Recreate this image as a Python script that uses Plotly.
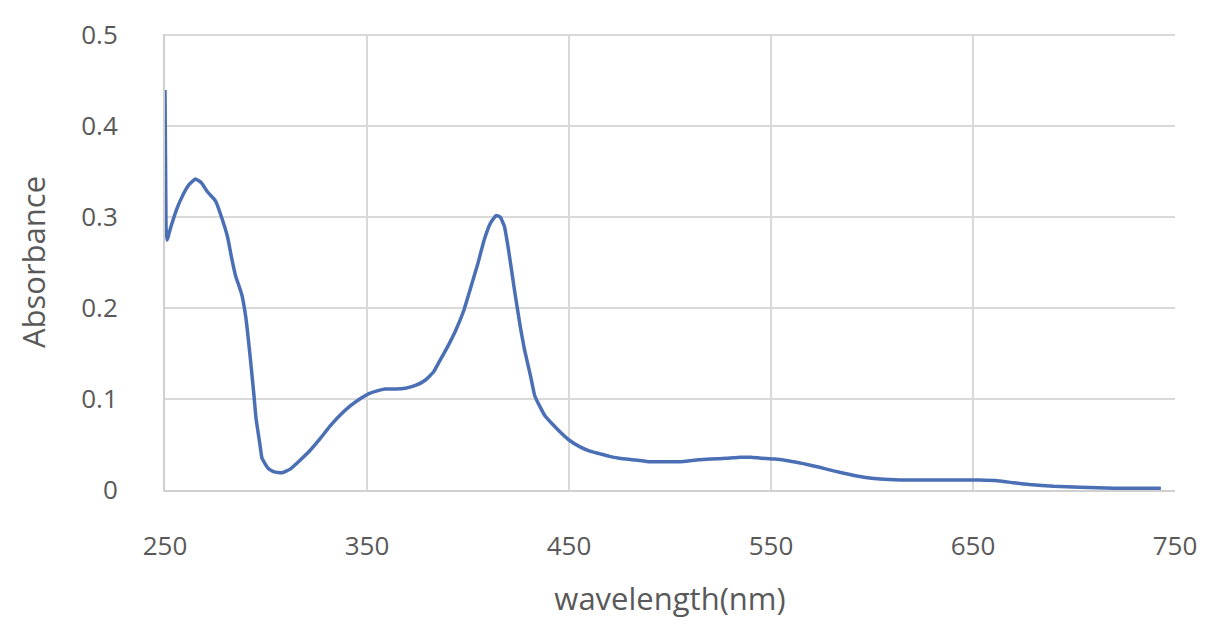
import plotly.graph_objects as go

wavelength = [250, 250.5, 251, 253, 256, 259, 262, 265, 268, 271, 275, 278, 281, 283, 285, 287, 288, 290, 292, 294, 295, 297, 298, 301, 304, 308, 312, 317, 322, 327, 332, 337, 342, 347, 351, 355, 359, 364, 369, 374, 379, 383, 386, 390, 394, 398, 401, 405, 408, 411, 414, 416, 418, 420, 423, 426, 428, 431, 433, 436, 438, 442, 446, 450, 455, 460, 465, 470, 475, 483, 490, 498, 505, 513, 520, 528, 535, 540, 545, 552, 559, 566, 574, 581, 589, 596, 604, 614, 624, 640, 653, 663, 670, 678, 690, 703, 720, 743]
absorbance = [0.44, 0.29, 0.275, 0.29, 0.31, 0.325, 0.336, 0.342, 0.338, 0.328, 0.318, 0.3, 0.278, 0.255, 0.235, 0.222, 0.215, 0.19, 0.15, 0.105, 0.08, 0.05, 0.035, 0.024, 0.02, 0.019, 0.023, 0.033, 0.044, 0.057, 0.071, 0.083, 0.093, 0.101, 0.106, 0.109, 0.111, 0.111, 0.112, 0.115, 0.121, 0.13, 0.142, 0.158, 0.176, 0.198, 0.22, 0.25, 0.275, 0.293, 0.302, 0.3, 0.29, 0.265, 0.22, 0.178, 0.154, 0.125, 0.104, 0.09, 0.082, 0.072, 0.063, 0.055, 0.048, 0.043, 0.04, 0.037, 0.035, 0.033, 0.031, 0.031, 0.031, 0.033, 0.034, 0.035, 0.036, 0.036, 0.035, 0.034, 0.032, 0.029, 0.025, 0.021, 0.017, 0.014, 0.012, 0.011, 0.011, 0.011, 0.011, 0.01, 0.008, 0.006, 0.004, 0.003, 0.002, 0.002]

x_ticks = [250, 350, 450, 550, 650, 750]
y_ticks = [0, 0.1, 0.2, 0.3, 0.4, 0.5]
y_tick_text = ["0", "0.1", "0.2", "0.3", "0.4", "0.5"]

fig = go.Figure()
fig.add_trace(go.Scatter(
    x=wavelength, y=absorbance, mode="lines",
    line=dict(color="#4a6fb5", width=3.5, shape="spline", smoothing=0.4),
    showlegend=False, hoverinfo="skip",
))

font_family = "Open Sans, Liberation Sans, sans-serif"
fig.update_layout(
    width=1211, height=634,
    paper_bgcolor="white", plot_bgcolor="white",
    margin=dict(l=165, r=36, t=34, b=144),
    font=dict(family=font_family, color="#595959"),
)
fig.update_xaxes(
    range=[250, 750], tickvals=x_ticks, ticktext=[str(v) for v in x_ticks],
    showgrid=True, gridcolor="#d9d9d9", gridwidth=2,
    showline=True, linecolor="#d0d0d0", linewidth=2,
    zeroline=False, ticks="", ticklabelstandoff=32,
    tickfont=dict(size=26, color="#595959"),
    title=dict(text="wavelength(nm)", font=dict(size=31, color="#595959"), standoff=26),
)
fig.update_yaxes(
    range=[0, 0.5015], tickvals=y_ticks, ticktext=y_tick_text,
    showgrid=True, gridcolor="#d9d9d9", gridwidth=2,
    showline=True, linecolor="#d0d0d0", linewidth=2,
    zeroline=False, ticks="", ticklabelstandoff=40,
    tickfont=dict(size=26, color="#595959"),
    title=dict(text="Absorbance", font=dict(size=31, color="#595959"), standoff=26),
)

fig.write_html("out.html")
